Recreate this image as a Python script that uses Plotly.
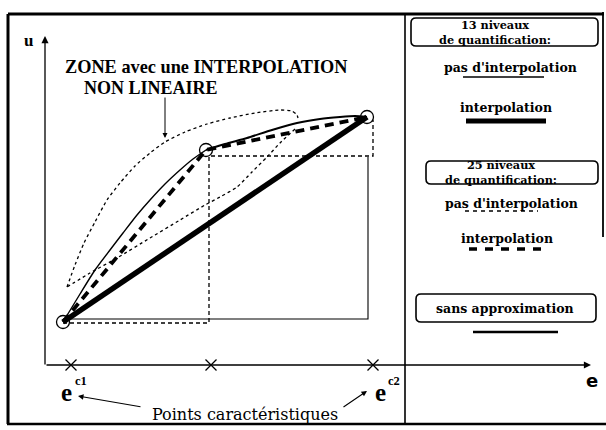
import plotly.graph_objects as go

# ---------------------------------------------------------------
# Data (e to the right, u upward; origin where the two axes meet)
# ---------------------------------------------------------------
# characteristic points (open circles)
e_char = [18, 161, 322]
u_char = [43, 215, 248]
# crosses on the e axis
e_cross = [26, 166, 328]
u_cross = [0, 0, 0]

# true characteristic ("sans approximation"), two arcs
true1_e = [18, 35, 50, 65, 78, 92, 105, 120, 135, 148, 161]
true1_u = [43, 71, 95, 115, 132, 150, 165, 181, 195, 206, 215]
true2_e = [161, 180, 202, 227, 252, 275, 295, 310, 322]
true2_u = [215, 221, 227, 235, 242, 246, 248, 249, 248]

# 13 levels, no interpolation (staircase)
stair13_e = [18, 323, 323]
stair13_u = [46, 46, 208]
# 25 levels, no interpolation (staircase)
stair25_e = [18, 164, 164, 328, 328]
stair25_u = [42, 42, 209, 209, 245]
# 13 levels, interpolation : P1 -> P3
interp13_e = [e_char[0], e_char[2]]
interp13_u = [u_char[0], u_char[2]]
# 25 levels, interpolation : P1 -> P2 -> P3
interp25_e = e_char
interp25_u = u_char

# zone of non-linear interpolation (dotted outline)
zone_up_e = [22, 30, 39, 50, 62, 75, 90, 105, 120, 140, 162, 185, 210, 235, 247, 252, 253]
zone_up_u = [78, 100, 122, 143, 165, 182, 199, 212, 223, 233, 241, 247, 252, 255, 254, 250, 247]
zone_lo_e = [250, 235, 222, 207, 192, 175, 160, 135, 105, 72, 45, 22]
zone_lo_u = [236, 222, 208, 193, 178, 168, 160, 145, 127, 107, 92, 78]

# texts
legend_titles = ["13 niveaux<br>de quantification:", "25 niveaux<br>de quantification:", "sans approximation"]
legend_items = ["pas d'interpolation", "interpolation"]
zone_text = ["ZONE avec une INTERPOLATION", "NON LINEAIRE"]
points_text = "Points caractéristiques"

# ---------------------------------------------------------------
W, H = 606, 430
OX, OY = 45, 365           # pixel position of the axes origin


def X(px):
    return px - OX


def Y(py):
    return OY - py


BLACK = "#000000"
fig = go.Figure()


def line(xs, ys, width, dash="solid", shape="linear", smoothing=0.6):
    fig.add_trace(go.Scatter(x=xs, y=ys, mode="lines",
                             line=dict(color=BLACK, width=width, dash=dash, shape=shape, smoothing=smoothing),
                             hoverinfo="skip", showlegend=False))


# dotted zone
line(zone_up_e, zone_up_u, 1.3, "dot", "spline")
line(zone_lo_e, zone_lo_u, 1.3, "dot", "spline")
# staircases
line(stair13_e, stair13_u, 1.1)
line(stair25_e, stair25_u, 1.3, "4px,3px")
# true curve
line(true1_e, true1_u, 1.4, "solid", "spline")
line(true2_e, true2_u, 2.0, "solid", "spline")
# interpolations
line(interp25_e, interp25_u, 3.8, "9px,6px")
line(interp13_e, interp13_u, 5.5)
# circles
fig.add_trace(go.Scatter(x=e_char, y=u_char, mode="markers",
                         marker=dict(symbol="circle-open", size=13, color=BLACK, line=dict(width=1.3, color=BLACK)),
                         hoverinfo="skip", showlegend=False))
# crosses
fig.add_trace(go.Scatter(x=e_cross, y=u_cross, mode="markers",
                         marker=dict(symbol="x-thin", size=11, color=BLACK, line=dict(width=1.3, color=BLACK)),
                         hoverinfo="skip", showlegend=False))

shapes = []


def seg(x0, y0, x1, y1, w, dash="solid"):
    shapes.append(dict(type="line", xref="x", yref="y", x0=X(x0), y0=Y(y0), x1=X(x1), y1=Y(y1),
                       line=dict(color=BLACK, width=w, dash=dash)))


def rrect(x0, y0, x1, y1, r=5, w=1.6):
    xa, xb, yt, yb = X(x0), X(x1), Y(y0), Y(y1)
    p = (f"M {xa+r},{yt} L {xb-r},{yt} Q {xb},{yt} {xb},{yt-r} L {xb},{yb+r} Q {xb},{yb} {xb-r},{yb} "
         f"L {xa+r},{yb} Q {xa},{yb} {xa},{yb+r} L {xa},{yt-r} Q {xa},{yt} {xa+r},{yt} Z")
    shapes.append(dict(type="path", xref="x", yref="y", path=p, line=dict(color=BLACK, width=w)))


# frame
seg(8, 14, 604, 14, 2.8)
seg(8, 14, 8, 424, 3.0)
seg(7, 424, 606, 424, 2.6)
seg(603, 12, 603, 237, 1.8)
seg(405, 14, 405, 424, 1.6)

# legend panel
rrect(411, 18, 598, 46)
rrect(426, 161, 598, 184)
rrect(416, 294, 596, 322)
seg(463, 77, 544, 77, 1.6)
seg(466, 121, 546, 121, 5.0)
seg(465, 211, 538, 211, 1.6, "4px,4px")
seg(469, 249, 549, 249, 3.5, "8px,8px")
seg(473, 332, 558, 332, 2.6)

annotations = []


def txt(px, py, s, size, family, bold=True, xanchor="center"):
    annotations.append(dict(x=X(px), y=Y(py), xref="x", yref="y", text=s, showarrow=False,
                            xanchor=xanchor, yanchor="middle",
                            font=dict(size=size, family=family, color=BLACK, weight="bold" if bold else "normal")))


def arrow(tx, ty, hx, hy, head=2, w=1.2, size=1.0):
    annotations.append(dict(x=X(hx), y=Y(hy), ax=X(tx), ay=Y(ty), xref="x", yref="y", axref="x", ayref="y",
                            text="", showarrow=True, arrowhead=head, arrowsize=size, arrowwidth=w,
                            arrowcolor=BLACK, standoff=0, startstandoff=0))


LEG = "DejaVu Serif"
SER = "Liberation Serif"
txt(495, 32, legend_titles[0], 11.3, LEG)
txt(510, 67, legend_items[0], 12.5, LEG)
txt(506, 107, legend_items[1], 12.5, LEG)
txt(501, 172, legend_titles[1], 11.3, LEG)
txt(511, 203, legend_items[0], 12.5, LEG)
txt(507, 238, legend_items[1], 12.5, LEG)
txt(505, 308, legend_titles[2], 12.5, LEG)

# axes (drawn as arrows)
arrow(45, 366, 45, 36, head=2, w=1.3, size=1.1)
arrow(45, 365, 591, 365, head=2, w=1.3, size=1.1)
txt(28, 40, "u", 17, SER)
txt(592, 380, "e", 18, "DejaVu Sans")

# zone annotation
txt(63, 67, zone_text[0], 18.3, SER, xanchor="left")
txt(82, 88, zone_text[1], 18, SER, xanchor="left")
arrow(165, 96, 165, 138, head=2, w=1.0, size=1.0)

# characteristic-point labels
txt(66, 392, "e", 25, SER)
txt(81, 381, "c1", 12.5, SER)
txt(380, 392, "e", 25, SER)
txt(394, 381, "c2", 12.5, SER)
txt(245, 414, points_text, 16, "DejaVu Serif", bold=False)
arrow(142, 407, 78, 396, head=2, w=1.1, size=1.0)
arrow(342, 408, 367, 391, head=2, w=1.1, size=1.0)

fig.update_layout(
    width=W, height=H, margin=dict(l=0, r=0, t=0, b=0),
    paper_bgcolor="white", plot_bgcolor="white",
    xaxis=dict(range=[X(0), X(W)], visible=False, fixedrange=True),
    yaxis=dict(range=[Y(H), Y(0)], visible=False, fixedrange=True),
    shapes=shapes, annotations=annotations, showlegend=False,
)

fig.write_html("out.html", config={"displayModeBar": False},
               post_script="document.body.style.margin='0';document.body.style.overflow='hidden';")
